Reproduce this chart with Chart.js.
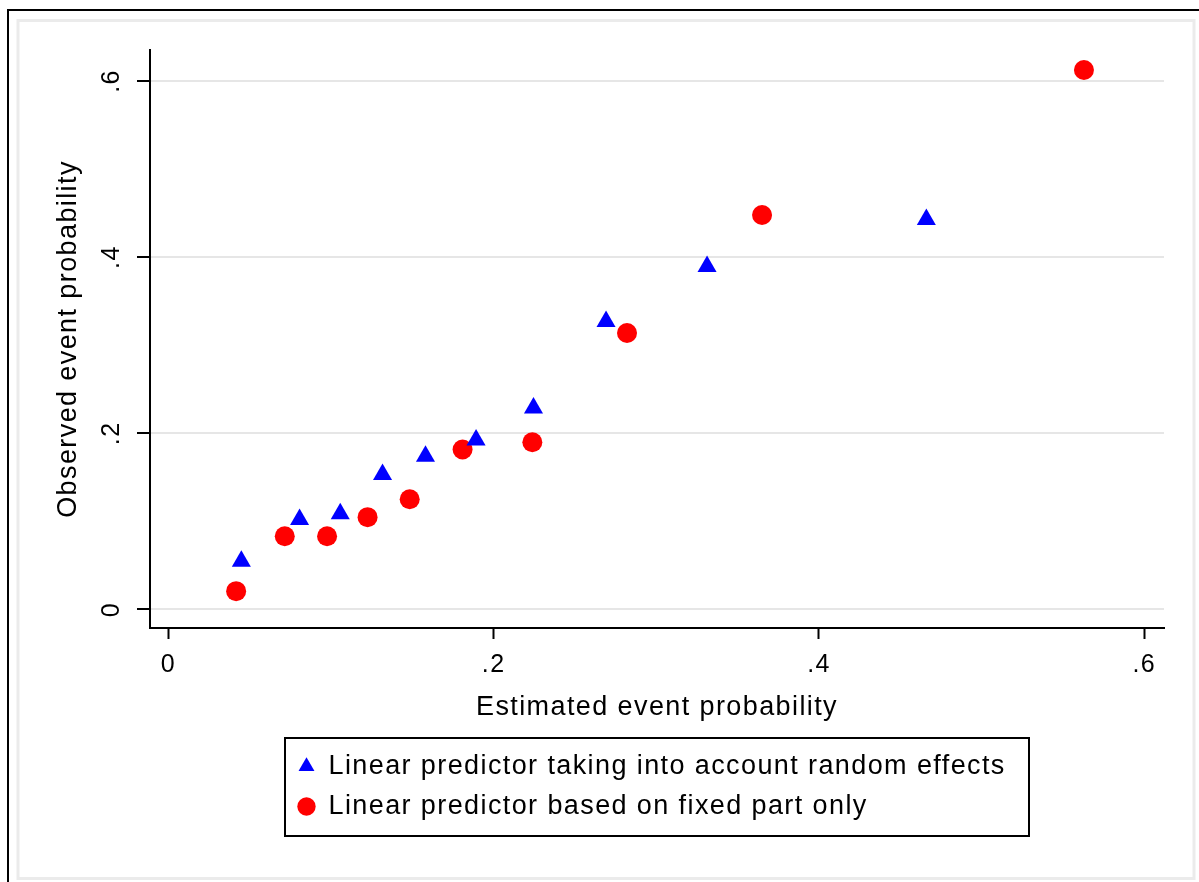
<!DOCTYPE html>
<html>
<head>
<meta charset="utf-8">
<script src="https://cdn.jsdelivr.net/npm/chart.js@4.4.0/dist/chart.umd.min.js"></script>
<style>
  html, body { margin: 0; padding: 0; background: #fff; }
  #chart { display: block; }
</style>
</head>
<body>
<canvas id="chart" width="1199" height="882"></canvas>
<script>
/* observed vs estimated event probability */
let estRandom = [0.0449, 0.0807, 0.1057, 0.1317, 0.1581, 0.1892, 0.2245, 0.2691, 0.3312, 0.4660];
let obsRandom = [0.0548, 0.1022, 0.1086, 0.1532, 0.1740, 0.1924, 0.2287, 0.3269, 0.3893, 0.4427];
let estFixed = [0.0417, 0.0716, 0.0976, 0.1225, 0.1484, 0.1809, 0.2238, 0.2820, 0.3650, 0.5629];
let obsFixed = [0.0208, 0.0832, 0.0832, 0.1048, 0.1251, 0.1816, 0.1898, 0.3138, 0.4478, 0.6124];
let tickValues = [0, 0.2, 0.4, 0.6];
let tickLabels = ['0', '.2', '.4', '.6'];
let seriesNames = ['Linear predictor taking into account random effects', 'Linear predictor based on fixed part only'];
let xTitle = 'Estimated event probability';
let yTitle = 'Observed event probability';

let toPoints = function (xs, ys) {
    return xs.map(function (x, i) { return {x: x, y: ys[i]}; });
};
let fixedTicks = function (scale) {
    scale.ticks = tickValues.map(function (v) { return {value: v}; });
};
let tickText = function (value) {
    let i = tickValues.findIndex(function (v) { return Math.abs(v - value) < 1e-9; });
    return i < 0 ? '' : tickLabels[i];
};

let font = 'Liberation Sans';

// stata spaces its glyphs out a bit
let spacing = {
    id: 'spacing',
    beforeUpdate: function (chart) { chart.ctx.letterSpacing = '1.4px'; },
    beforeDraw: function (chart) { chart.ctx.letterSpacing = '1.4px'; }
};

let frame = {
    id: 'frame',
    beforeDraw: function (chart) {
        let ctx = chart.ctx;
        ctx.save();
        ctx.fillStyle = '#fff';
        ctx.fillRect(0, 0, chart.width, chart.height);
        ctx.strokeStyle = '#000';
        ctx.lineWidth = 2;
        ctx.beginPath();
        ctx.moveTo(8, chart.height);
        ctx.lineTo(8, 10);
        ctx.lineTo(chart.width, 10);
        ctx.stroke();
        ctx.strokeStyle = '#ebebeb';
        ctx.lineWidth = 3;
        ctx.strokeRect(18, 20.5, 1176, 858);
        ctx.restore();
    }
};

let legendBox = {
    id: 'legendBox',
    afterLayout: function (chart) {
        let lg = chart.legend;
        lg.left = 285;
        lg.right = 1029;
    },
    afterDraw: function (chart) {
        let lg = chart.legend;
        let ctx = chart.ctx;
        ctx.save();
        ctx.strokeStyle = '#000';
        ctx.lineWidth = 2;
        ctx.strokeRect(lg.left, lg.top - 2, lg.right - lg.left, lg.height + 8);
        ctx.restore();
    }
};

let ctx = document.getElementById('chart').getContext('2d');
new Chart(ctx, {
    type: 'scatter',
    data: {
        datasets: [{
            label: seriesNames[0],
            data: toPoints(estRandom, obsRandom),
            pointStyle: 'triangle',
            pointRadius: 11,
            pointHoverRadius: 11,
            backgroundColor: '#0000ff',
            borderColor: '#0000ff',
            borderWidth: 0
        }, {
            label: seriesNames[1],
            data: toPoints(estFixed, obsFixed),
            pointStyle: 'circle',
            pointRadius: 10,
            pointHoverRadius: 10,
            backgroundColor: '#ff0000',
            borderColor: '#ff0000',
            borderWidth: 0
        }]
    },
    options: {
        responsive: false,
        animation: false,
        devicePixelRatio: 1,
        layout: {padding: {left: 40, right: 35, top: 50, bottom: 52}},
        plugins: {
            tooltip: {enabled: false},
            legend: {
                position: 'bottom',
                align: 'start',
                labels: {
                    usePointStyle: true,
                    boxWidth: 17,
                    boxHeight: 13,
                    padding: 13,
                    color: '#000',
                    font: {family: font, size: 27}
                }
            }
        },
        scales: {
            x: {
                type: 'linear',
                min: -0.01125,
                max: 0.6121,
                afterBuildTicks: fixedTicks,
                afterFit: function (scale) { scale.height = 112; },
                ticks: {
                    callback: tickText,
                    color: '#000',
                    padding: 11,
                    maxRotation: 0,
                    font: {family: font, size: 25}
                },
                grid: {
                    drawOnChartArea: false,
                    tickLength: 11,
                    tickWidth: 2,
                    tickColor: '#000'
                },
                border: {color: '#000', width: 2},
                title: {
                    display: true,
                    text: xTitle,
                    color: '#000',
                    padding: {top: 0, bottom: 16},
                    font: {family: font, size: 27}
                }
            },
            y: {
                type: 'linear',
                min: -0.021,
                max: 0.6351,
                afterBuildTicks: fixedTicks,
                afterFit: function (scale) { scale.width = 110; },
                ticks: {
                    callback: tickText,
                    color: '#000',
                    padding: 13,
                    minRotation: 90,
                    maxRotation: 90,
                    crossAlign: 'center',
                    font: {family: font, size: 25}
                },
                grid: {
                    color: '#e6e6e6',
                    lineWidth: 2,
                    tickLength: 13,
                    tickWidth: 2,
                    tickColor: '#000'
                },
                border: {color: '#000', width: 2},
                title: {
                    display: true,
                    text: yTitle,
                    color: '#000',
                    padding: {top: 12, bottom: 0},
                    font: {family: font, size: 27}
                }
            }
        }
    },
    plugins: [spacing, frame, legendBox]
});
</script>
</body>
</html>
